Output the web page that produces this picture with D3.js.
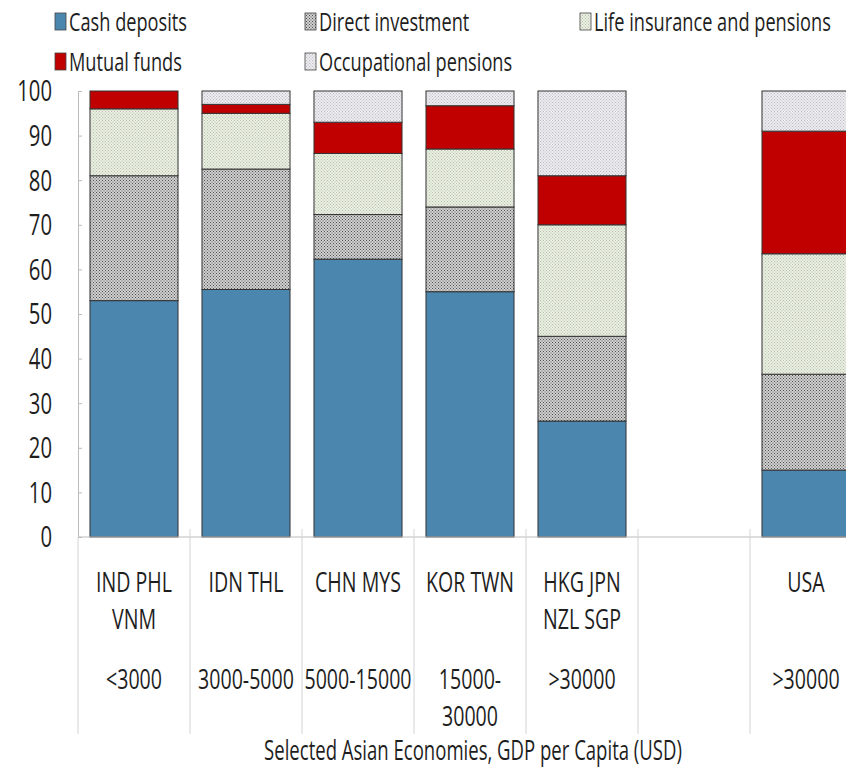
<!DOCTYPE html>
<html><head><meta charset="utf-8">
<script src="https://cdn.jsdelivr.net/npm/d3@7"></script>
<style>
body{margin:0;background:#fff;}
text{font-family:"Open Sans",sans-serif;fill:#1e1e1e;}
</style></head><body>
<svg id="c" width="846" height="768"></svg>
<script>
const categories = ["IND PHL VNM","IDN THL","CHN MYS","KOR TWN","HKG JPN NZL SGP","(blank)","USA"];
const countryLines = [["IND PHL","VNM"],["IDN THL"],["CHN MYS"],["KOR TWN"],["HKG JPN","NZL SGP"],[],["USA"]];
const gdpLines = [["<3000"],["3000-5000"],["5000-15000"],["15000-","30000"],[">30000"],[],[">30000"]];
const seriesNames = ["Cash deposits","Direct investment","Life insurance and pensions","Mutual funds","Occupational pensions"];
const cashDeposits = [53, 55.5, 62.3, 55, 26, 0, 15];
const directInvestment = [28, 27, 10, 19, 19, 0, 21.5];
const lifeInsurance = [15, 12.5, 13.7, 13, 25, 0, 27];
const mutualFunds = [4, 2, 7, 9.7, 11, 0, 27.5];
const occupationalPensions = [0, 3, 7, 3.3, 19, 0, 9];
const yTicks = [0,10,20,30,40,50,60,70,80,90,100];
const xTitle = "Selected Asian Economies, GDP per Capita (USD)";

const seriesValues = [cashDeposits, directInvestment, lifeInsurance, mutualFunds, occupationalPensions];
const rows = categories.map((c,i)=>{const r={cat:c}; seriesNames.forEach((s,j)=>r[s]=seriesValues[j][i]); return r;});

const SX = 0.7; // condensed look
function ctext(g, x, y, str, fs, anchor){
  return g.append("text").attr("transform",`translate(${x},${y}) scale(${SX},1)`)
    .attr("font-size",fs).attr("text-anchor",anchor||"start").text(str);
}
function mtext(g, x, y, lines, fs, lh){
  const t = g.append("text").attr("transform",`translate(${x},${y}) scale(${SX},1)`)
    .attr("font-size",fs).attr("text-anchor","middle");
  lines.forEach((s,k)=>t.append("tspan").attr("x",0).attr("y",k*lh).text(s));
  return t;
}

const svg = d3.select("#c");
const defs = svg.append("defs");
function dotPattern(id, bg, dot, size){
  const p = defs.append("pattern").attr("id",id).attr("patternUnits","userSpaceOnUse").attr("width",size).attr("height",size);
  p.append("rect").attr("width",size).attr("height",size).attr("fill",bg);
  p.append("rect").attr("width",1).attr("height",1).attr("fill",dot);
  p.append("rect").attr("x",size/2).attr("y",size/2).attr("width",1).attr("height",1).attr("fill",dot);
}
dotPattern("pDI","#d0d0d0","#505050",3);
dotPattern("pLife","#eaf0e0","#b9bdb2",3);
dotPattern("pOcc","#ececf0","#bcbcc2",3);
const fills = ["#4a86ae","url(#pDI)","url(#pLife)","#c00000","url(#pOcc)"];

const x = d3.scaleBand().domain(categories).range([78, 862]).paddingInner(0.214).paddingOuter(0.107);
const y = d3.scaleLinear().domain([0,100]).range([537, 91]);

// y axis
const yAxis = svg.append("g").attr("transform","translate(78,0)")
  .call(d3.axisLeft(y).tickValues(yTicks).tickSize(-4).tickFormat(""));
yAxis.select(".domain").attr("stroke","#bbb");
yAxis.selectAll(".tick line").attr("stroke","#bbb");
const yl = svg.append("g");
yTicks.forEach(t=>ctext(yl, 52, y(t), String(t), 29, "end").attr("dy","0.36em"));

// bars
const stacked = d3.stack().keys(seriesNames)(rows);
svg.append("g").selectAll("g").data(stacked).join("g")
  .attr("fill",(d,i)=>fills[i])
  .selectAll("rect").data(d=>d).join("rect")
  .attr("x",d=>x(d.data.cat))
  .attr("width",x.bandwidth())
  .attr("y",d=>y(d[1]))
  .attr("height",d=>y(d[0])-y(d[1]))
  .attr("stroke",d=>(d[1]-d[0])>0?"#333":"none")
  .attr("stroke-width",1);

// x axis line
svg.append("line").attr("x1",78).attr("x2",846).attr("y1",537).attr("y2",537).attr("stroke","#bbb");
// category dividers
const half = x.step()*x.paddingInner()/2;
const bounds = categories.map(c=>x(c)-half).concat([x(categories[categories.length-1])+x.bandwidth()+half]);
svg.append("g").selectAll("line").data(bounds).join("line")
  .attr("x1",d=>d).attr("x2",d=>d).attr("y1",(d,i)=>i===0?537:529).attr("y2",734)
  .attr("stroke","#d4d4d4");

// category labels
const lab = svg.append("g");
categories.forEach((c,i)=>{
  const cx = x(c)+x.bandwidth()/2;
  if (countryLines[i].length) mtext(lab, cx, 592, countryLines[i], 28, 37);
  if (gdpLines[i].length) mtext(lab, cx, 689, gdpLines[i], 28, 37);
});
ctext(svg, 473, 760, xTitle, 26.5, "middle");

// legend
const legendPos = [[55,22],[305,22],[580,22],[55,62],[305,62]];
const lg = svg.append("g");
seriesNames.forEach((s,i)=>{
  const [lx,ly] = legendPos[i];
  lg.append("rect").attr("x",lx).attr("y",ly-9).attr("width",11).attr("height",17)
    .attr("fill",fills[i]).attr("stroke","#444").attr("stroke-width",0.8);
  ctext(lg, lx+14, ly+9, s, 26, "start");
});
</script></body></html>
